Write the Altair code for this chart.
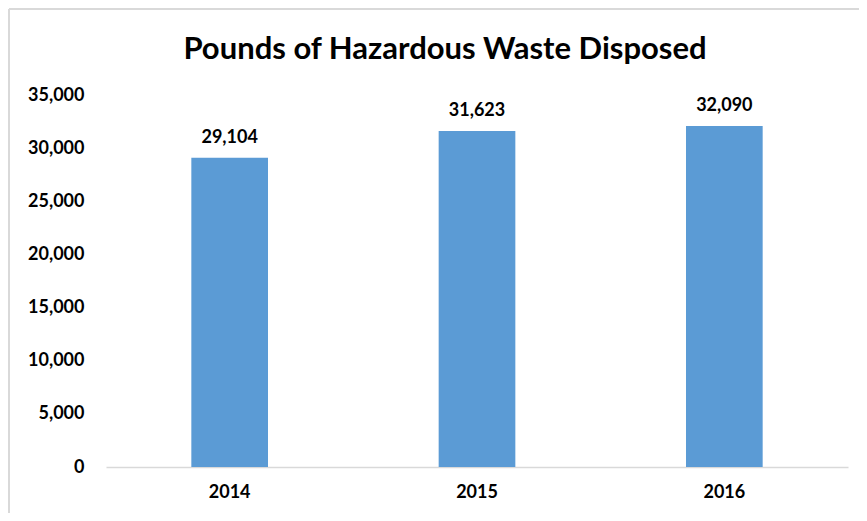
import altair as alt
import pandas as pd

years = ["2014", "2015", "2016"]
pounds = [29104, 31623, 32090]
y_ticks = [0, 5000, 10000, 15000, 20000, 25000, 30000, 35000]

df = pd.DataFrame({"year": years, "pounds": pounds})

FONT = "Lato"
BLUE = "#5B9BD5"
GRAY = "#D9D9D9"

base = alt.Chart(df)

x_enc = alt.X(
    "year:N",
    sort=years,
    title=None,
    scale=alt.Scale(paddingInner=0.69, paddingOuter=0.345),
    axis=alt.Axis(
        labelAngle=0,
        ticks=False,
        domain=True,
        domainColor=GRAY,
        domainWidth=1.5,
        labelPadding=16,
        labelFont=FONT,
        labelFontSize=18,
        labelFontWeight="bold",
        labelColor="#000000",
    ),
)
y_enc = alt.Y(
    "pounds:Q",
    title=None,
    scale=alt.Scale(domain=[0, 35000], nice=False),
    axis=alt.Axis(
        values=y_ticks,
        format=",.0f",
        grid=False,
        domain=False,
        ticks=False,
        labelPadding=22,
        labelFont=FONT,
        labelFontSize=18,
        labelFontWeight="bold",
        labelColor="#000000",
    ),
)

bars = base.mark_bar(color=BLUE).encode(x=x_enc, y=y_enc)

labels = base.mark_text(
    baseline="bottom",
    dy=-11,
    font=FONT,
    fontSize=18,
    fontWeight="bold",
    color="#000000",
).encode(
    x=alt.X("year:N", sort=years),
    y=alt.Y("pounds:Q"),
    text=alt.Text("pounds:Q", format=",.0f"),
)

frame = pd.DataFrame({"k": [0]})
top_border = alt.Chart(frame).mark_rule(color=GRAY, strokeWidth=2).encode(
    x=alt.value(-97), x2=alt.value(762), y=alt.value(-86)
)
left_border = alt.Chart(frame).mark_rule(color=GRAY, strokeWidth=2).encode(
    x=alt.value(-97), y=alt.value(-86), y2=alt.value(430)
)

chart = (
    alt.layer(top_border, left_border, bars, labels)
    .properties(
        width=742,
        height=372,
        background="white",
        autosize=alt.AutoSizeParams(type="none"),
        padding={"left": 98, "top": 87, "right": 11, "bottom": 46},
        title=alt.TitleParams(
            "Pounds of Hazardous Waste Disposed",
            font=FONT,
            fontSize=31,
            fontWeight="bold",
            color="#000000",
            anchor="middle",
            dx=-32,
            dy=78,
            offset=20,
        ),
    )
    .configure_view(stroke="transparent", strokeWidth=0)
)

chart.save("out.html", embed_options={"renderer": "svg", "actions": False})
